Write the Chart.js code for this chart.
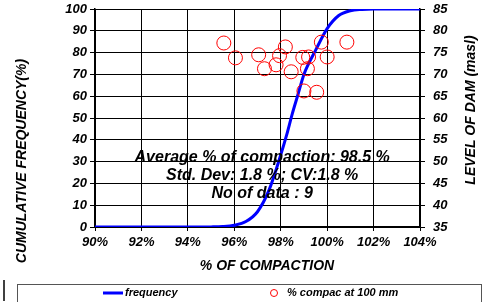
<!DOCTYPE html>
<html>
<head>
<meta charset="utf-8">
<script src="https://cdn.jsdelivr.net/npm/chart.js@4/dist/chart.umd.min.js"></script>
<style>
  html, body { margin: 0; padding: 0; background: #fff; }
  #wrap { position: relative; width: 484px; height: 302px; }
</style>
</head>
<body>
<div id="wrap"><canvas id="compChart" width="484" height="302"></canvas></div>
<script>
// --- data ---
const curveX = [90, 91, 92, 93, 94, 95, 95.5, 96, 96.5, 97, 97.5, 98, 98.25, 98.5, 98.75, 99, 99.5, 100, 100.5, 101, 101.5, 102, 103, 104];
const curveY = [0, 0, 0, 0, 0, 0.05, 0.2, 0.8, 2.5, 7, 17, 33, 42, 52, 61, 70, 81, 91, 97, 99.2, 99.8, 100, 100, 100];

const compacX = [95.55, 96.05, 97.05, 97.3, 97.8, 97.95, 98.2, 98.45, 98.95, 99.15, 99.2, 99.75, 100.0, 99.0, 99.55, 100.85];
const levelY = [77.2, 73.8, 74.5, 71.3, 72.2, 74.3, 76.3, 70.6, 73.9, 71.3, 74.0, 77.4, 74.0, 66.2, 65.9, 77.4];

const xTicks = [90, 92, 94, 96, 98, 100, 102, 104];
const statLines = ['Average % of compaction: 98.5 %', 'Std. Dev: 1.8 %; CV:1.8 %', 'No of data : 9'];

const FONT = "'Liberation Sans', Arial, sans-serif";
const tickFont = { family: FONT, size: 13, weight: 'bold', style: 'italic' };

// titles, stats box and legend drawn by hand
const extras = {
  id: 'extras',
  afterDraw(chart) {
    const c = chart.ctx;
    const x = chart.scales.x, y = chart.scales.y;
    c.save();
    c.fillStyle = '#000';
    c.textAlign = 'center';
    c.textBaseline = 'middle';

    c.font = `italic bold 16px ${FONT}`;
    const cx = x.getPixelForValue(97.2);
    [32, 23.7, 15.4].forEach((v, i) => c.fillText(statLines[i], cx, y.getPixelForValue(v)));

    c.font = `italic bold 14px ${FONT}`;
    c.fillText('% OF COMPACTION', 267, 266);

    c.save();
    c.translate(22, 161);
    c.rotate(-Math.PI / 2);
    c.fillText('CUMULATIVE FREQUENCY(%)', 0, 0);
    c.restore();

    c.save();
    c.translate(471, 110);
    c.rotate(-Math.PI / 2);
    c.fillText('LEVEL OF DAM (masl)', 0, 0);
    c.restore();

    // legend box
    c.strokeStyle = '#555';
    c.lineWidth = 1;
    c.strokeRect(17.5, 284.5, 464, 30);
    c.strokeStyle = '#000';
    c.lineWidth = 1.5;
    c.beginPath(); c.moveTo(4, 280); c.lineTo(4, 301); c.stroke();

    const ds = chart.data.datasets;
    c.strokeStyle = ds[0].borderColor;
    c.lineWidth = 3;
    c.beginPath(); c.moveTo(103, 293); c.lineTo(123, 293); c.stroke();
    c.strokeStyle = ds[1].borderColor;
    c.lineWidth = 1;
    c.beginPath(); c.arc(274, 293, 3.5, 0, Math.PI * 2); c.stroke();

    c.font = `italic bold 11px ${FONT}`;
    c.textAlign = 'left';
    c.fillText(ds[0].label, 125, 293);
    c.fillText(ds[1].label, 287, 293);
    c.restore();
  }
};

const noPad = s => { s.paddingTop = 0; s.paddingBottom = 0; };

new Chart(document.getElementById('compChart'), {
  type: 'scatter',
  data: {
    datasets: [{
      label: 'frequency',
      type: 'line',
      data: curveX.map((v, i) => ({ x: v, y: curveY[i] })),
      borderColor: '#0000FF',
      borderWidth: 3,
      pointRadius: 0,
      cubicInterpolationMode: 'monotone',
      yAxisID: 'y',
      order: 2
    }, {
      label: '% compac at 100 mm',
      data: compacX.map((v, i) => ({ x: v, y: levelY[i] })),
      borderColor: '#FF0000',
      backgroundColor: 'rgba(0,0,0,0)',
      borderWidth: 1,
      pointRadius: 7,
      yAxisID: 'y2',
      order: 1
    }]
  },
  options: {
    responsive: false,
    animation: false,
    layout: { padding: { top: 9, left: 0, right: 0, bottom: 0 } },
    plugins: { legend: { display: false }, tooltip: { enabled: false } },
    scales: {
      x: {
        type: 'linear', min: 90, max: 104,
        afterBuildTicks: s => { s.ticks = xTicks.map(v => ({ value: v })); },
        afterFit: s => { s.height = 75; s.paddingLeft = 0; s.paddingRight = 0; },
        grid: { color: '#000', borderDash: [1, 1], tickLength: 4, tickColor: '#000', tickBorderDash: [] },
        border: { color: '#000', width: 1.5 },
        ticks: { color: '#000', font: tickFont, padding: 4, maxRotation: 0, callback: v => v + '%' }
      },
      y: {
        position: 'left', min: 0, max: 100,
        afterFit: s => { s.width = 95; noPad(s); },
        grid: { color: '#000', borderDash: [1, 1], tickLength: 5, tickColor: '#000', tickBorderDash: [] },
        border: { color: '#000', width: 1.5 },
        ticks: { stepSize: 10, color: '#000', font: tickFont, padding: 3 }
      },
      y2: {
        position: 'right', min: 35, max: 85,
        afterFit: s => { s.width = 64; noPad(s); },
        grid: { drawOnChartArea: false, tickLength: 5, tickColor: '#000' },
        border: { color: '#000', width: 1.5 },
        ticks: { stepSize: 5, color: '#000', font: tickFont, padding: 8 }
      }
    }
  },
  plugins: [extras]
});
</script>
</body>
</html>
